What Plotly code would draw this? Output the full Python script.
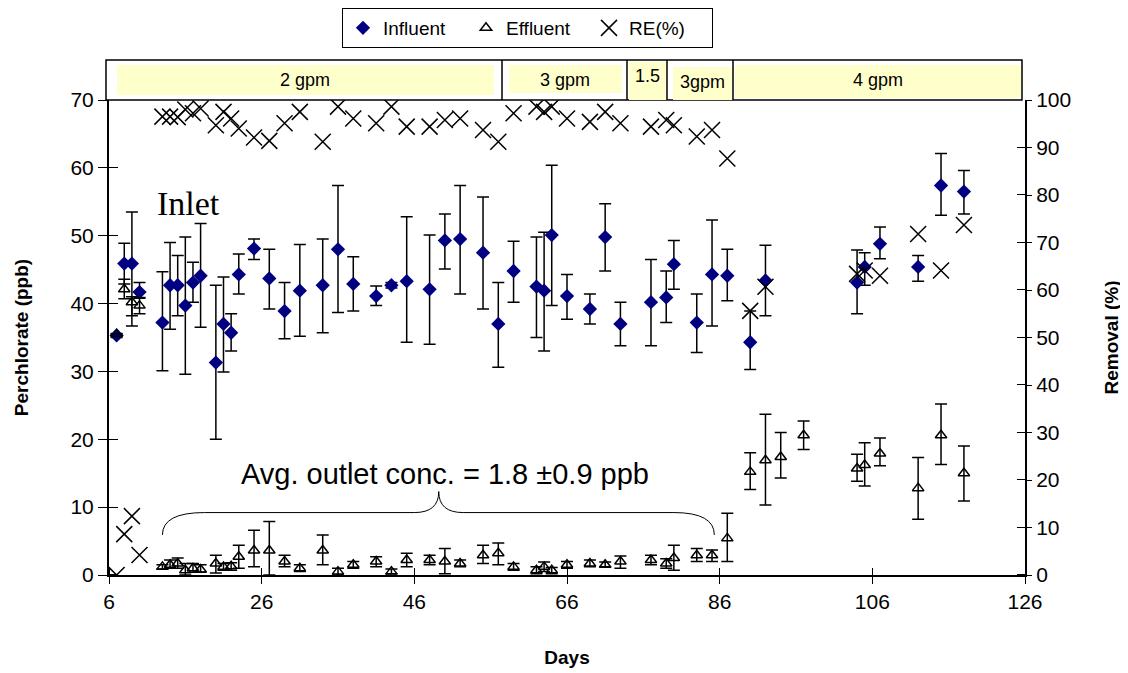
import plotly.graph_objects as go

# Influent perchlorate (ppb)
inf_day = [7, 8, 9, 10, 13, 14, 15, 16, 17, 18, 20, 21, 22, 23, 25, 27, 29, 31, 34, 36, 38, 41, 43, 45, 48,
           50, 52, 55, 57, 59, 62, 63, 64, 66, 69, 71, 73, 77, 79, 80, 83, 85, 87, 90, 92, 104, 105, 107,
           112, 115, 118]
inf_val = [35.3, 45.9, 45.9, 41.7, 37.2, 42.7, 42.7, 39.7, 43.1, 44.1, 31.3, 37.0, 35.7, 44.3, 48.1, 43.7,
           38.9, 41.9, 42.7, 48.0, 42.9, 41.1, 42.7, 43.3, 42.1, 49.3, 49.5, 47.5, 37.0, 44.8, 42.5, 41.9,
           50.1, 41.1, 39.2, 49.8, 37.0, 40.2, 40.9, 45.8, 37.2, 44.3, 44.1, 34.3, 43.4, 43.1, 45.4, 48.8,
           45.4, 57.4, 56.5]
inf_hi = [35.6, 48.9, 53.5, 43.1, 44.7, 49.0, 47.1, 49.8, 46.1, 51.8, 42.7, 43.9, 38.5, 47.3, 49.5, 48.0,
          43.1, 48.7, 49.5, 57.4, 46.9, 42.6, 43.1, 52.8, 50.1, 53.2, 57.4, 55.7, 43.1, 49.2, 49.8, 50.5,
          60.4, 44.3, 41.4, 54.7, 40.2, 46.5, 44.8, 49.3, 41.4, 52.3, 48.0, 38.9, 48.6, 47.9, 47.5, 51.3,
          47.1, 62.1, 59.6]
inf_lo = [35.0, 42.9, 36.7, 40.8, 30.1, 36.2, 38.2, 29.6, 40.2, 36.5, 20.0, 29.9, 33.0, 41.4, 46.5, 39.2,
          34.8, 35.2, 35.7, 38.7, 38.9, 39.7, 42.3, 34.3, 34.0, 45.1, 41.4, 39.2, 30.6, 40.2, 35.0, 33.0,
          39.7, 37.7, 37.0, 44.8, 33.8, 33.8, 37.2, 42.1, 32.8, 36.7, 40.4, 30.3, 38.2, 38.5, 42.7, 46.6,
          43.3, 53.0, 53.2]

# Effluent perchlorate (ppb)
eff_day = inf_day[:45] + [94, 97] + inf_day[45:]
eff_val = [35.5, 42.1, 40.2, 39.7, 1.2, 1.5, 1.7, 0.7, 1.0, 0.8, 1.7, 1.2, 1.3, 2.7, 3.6, 3.6, 2.0, 1.0,
           3.6, 0.5, 1.5, 2.0, 0.5, 2.2, 2.2, 2.0, 1.7, 2.9, 3.2, 1.2, 0.7, 1.2, 0.7, 1.5, 1.7, 1.5, 2.0,
           2.2, 1.7, 2.5, 2.9, 2.9, 5.4, 15.2, 16.9, 17.4, 20.6, 15.7, 16.2, 17.9, 12.8, 20.6, 15.0]
eff_hi = [35.5, 43.6, 41.0, 40.9, 1.5, 2.2, 2.5, 1.7, 1.7, 1.5, 2.9, 1.7, 1.8, 4.4, 6.6, 7.9, 2.9, 1.5,
          5.9, 1.0, 2.0, 2.7, 0.9, 3.2, 2.9, 3.9, 2.2, 4.4, 4.7, 1.7, 1.2, 1.9, 1.1, 2.0, 2.2, 1.9, 2.8,
          2.9, 2.4, 4.4, 3.9, 3.7, 9.1, 18.0, 23.7, 21.0, 22.7, 17.8, 19.5, 20.2, 17.3, 25.2, 19.0]
eff_lo = [35.5, 40.7, 38.2, 38.5, 0.9, 1.0, 1.0, 0.0, 0.4, 0.4, 0.3, 0.7, 0.7, 1.0, 1.2, 0.0, 1.2, 0.5,
          1.5, 0.0, 1.0, 1.2, 0.2, 1.2, 1.5, 0.2, 1.2, 1.7, 1.5, 0.7, 0.2, 0.5, 0.2, 1.0, 1.2, 1.2, 1.0,
          1.5, 1.0, 0.7, 2.0, 2.0, 2.0, 12.6, 10.3, 14.3, 18.5, 13.8, 13.1, 16.1, 8.2, 16.3, 10.9]

# Removal efficiency (%)
re_day = inf_day
re_val = [0, 8.6, 12.4, 4.2, 96.5, 96.5, 96.4, 98.0, 97.2, 98.2, 94.7, 97.5, 96.1, 94.0, 92.1, 91.4, 95.1,
          97.5, 91.2, 98.6, 96.1, 95.1, 98.6, 94.4, 94.4, 95.8, 96.1, 93.7, 91.2, 97.2, 98.6, 97.5, 98.6,
          96.1, 95.4, 97.5, 95.1, 94.4, 95.8, 94.7, 92.3, 93.7, 87.7, 55.6, 60.7, 63.4, 64.1, 63.0, 71.8,
          64.1, 73.7]

# flow rate periods shown in the strip above the plot
flow_labels = ["2 gpm", "3 gpm", "1.5", "3gpm", "4 gpm"]

x_ticks = list(range(6, 127, 20))

# plot area in page pixels (the page body adds an 8px offset)
OFF = 8
L, R, T, B = 109, 1025, 100, 575
W, H = 1128 - OFF, 673 - OFF


def px(x):
    return (x - L) / (R - L)


def py(y):
    return (B - y) / (B - T)


fig = go.Figure()
fig.add_trace(go.Scatter(
    x=inf_day, y=inf_val, mode="markers", name="Influent",
    marker=dict(symbol="diamond", size=11, color="#000080"),
    error_y=dict(type="data", symmetric=False,
                 array=[h - v for h, v in zip(inf_hi, inf_val)],
                 arrayminus=[v - l for v, l in zip(inf_val, inf_lo)],
                 color="black", thickness=1.5, width=6)))
fig.add_trace(go.Scatter(
    x=eff_day, y=eff_val, mode="markers", name="Effluent",
    marker=dict(symbol="triangle-up-open", size=10, color="black", line=dict(width=1.5)),
    error_y=dict(type="data", symmetric=False,
                 array=[h - v for h, v in zip(eff_hi, eff_val)],
                 arrayminus=[v - l for v, l in zip(eff_val, eff_lo)],
                 color="black", thickness=1.5, width=6)))
fig.add_trace(go.Scatter(
    x=re_day, y=re_val, mode="markers", name="RE(%)", yaxis="y2",
    marker=dict(symbol="x-thin-open", size=16, color="black", line=dict(width=1.5, color="black"))))

# flow strip
shapes = [dict(type="rect", xref="paper", yref="paper", x0=px(106), x1=px(1022), y0=py(100), y1=py(60),
               line=dict(color="black", width=1.5), fillcolor="white", layer="below")]
yellow = "#FFFFCC"
boxes = [(117, 494, 65, 95), (509, 622, 65, 93), (629, 667, 62, 100), (673, 733, 67, 100), (735, 1021, 65, 98)]
for x0, x1, y0, y1 in boxes:
    shapes.append(dict(type="rect", xref="paper", yref="paper", x0=px(x0), x1=px(x1), y0=py(y1), y1=py(y0),
                       line=dict(width=0), fillcolor=yellow, layer="below"))
for xd in [502, 627, 667, 733]:
    shapes.append(dict(type="line", xref="paper", yref="paper", x0=px(xd), x1=px(xd), y0=py(100), y1=py(60),
                       line=dict(color="black", width=1.5)))
# brace under the outlet text
shapes.append(dict(type="path", xref="x", yref="y",
                   path="M 13,5.9 Q 13,9.2 18.5,9.2 L 46,9.2 Q 49.2,9.2 49.2,12.3 Q 49.2,9.2 52.4,9.2 "
                        "L 80,9.2 Q 85.3,9.2 85.3,5.9",
                   line=dict(color="black", width=1)))

annotations = []
label_pos = [(305, 80), (565, 80), (647, 76), (702, 82), (878, 80)]
for lab, (x, y) in zip(flow_labels, label_pos):
    annotations.append(dict(text=lab, xref="paper", yref="paper", x=px(x), y=py(y), showarrow=False,
                            xanchor="center", yanchor="middle",
                            font=dict(family="Arial", size=18, color="black")))
annotations.append(dict(text="Inlet", xref="paper", yref="paper", x=px(188), y=py(203), showarrow=False,
                        xanchor="center", yanchor="middle",
                        font=dict(family="Liberation Serif", size=34, color="black")))
annotations.append(dict(text="Avg. outlet conc. = 1.8 \u00b10.9 ppb", xref="paper", yref="paper",
                        x=px(445), y=py(474), showarrow=False, xanchor="center", yanchor="middle",
                        font=dict(family="Arial", size=29, color="black")))

tick_font = dict(family="Arial", size=21, color="black")
title_font = dict(family="Arial", size=19, color="black")
axis_common = dict(showgrid=False, zeroline=False, showline=True, linecolor="black", linewidth=2,
                   ticks="outside", tickwidth=1, tickcolor="black", tickfont=tick_font)

fig.update_layout(
    width=W, height=H,
    margin=dict(l=L - OFF, r=W - (R - OFF), t=T - OFF, b=H - (B - OFF), autoexpand=False),
    paper_bgcolor="white", plot_bgcolor="white",
    font=dict(family="Arial", color="black"),
    showlegend=True,
    legend=dict(orientation="h", x=px(342), xanchor="left", yref="container", y=1.0, yanchor="top",
                bordercolor="black", borderwidth=1, font=dict(family="Arial", size=19),
                entrywidth=78, itemwidth=30),
    xaxis=dict(range=[6, 126], tickvals=x_ticks, ticklen=7,
               minor=dict(tickvals=[v + 0.01 for v in x_ticks], ticks="inside", ticklen=7,
                          tickwidth=1, tickcolor="black"),
               title=dict(text="<b>Days</b>", font=title_font, standoff=38), **axis_common),
    yaxis=dict(range=[0, 70], dtick=10, ticklen=9,
               minor=dict(tickvals=[v + 0.01 for v in range(0, 71, 10)], ticks="inside", ticklen=9,
                          tickwidth=1, tickcolor="black"),
               title=dict(text="<b>Perchlorate (ppb)</b>", font=title_font, standoff=37), **axis_common),
    yaxis2=dict(range=[0, 100], dtick=10, overlaying="y", side="right", ticklen=5,
                minor=dict(tickvals=[v + 0.01 for v in range(0, 101, 10)], ticks="inside", ticklen=8,
                           tickwidth=1, tickcolor="black"),
                title=dict(text="<b>Removal (%)</b>", font=title_font, standoff=34), **axis_common),
    shapes=shapes,
    annotations=annotations,
)

fig.write_html("out.html")
